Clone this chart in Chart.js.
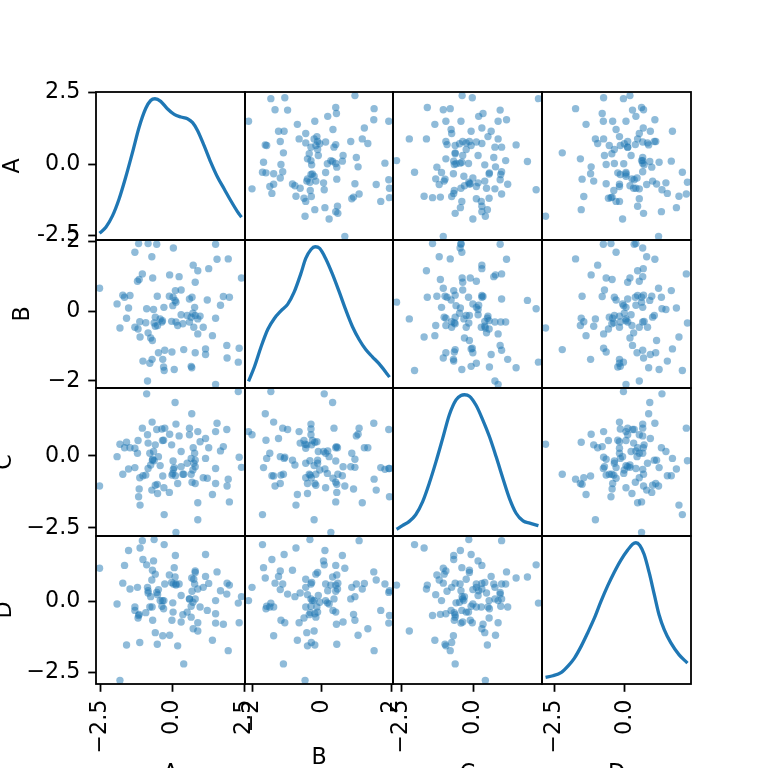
<!DOCTYPE html>
<html>
<head>
<meta charset="utf-8">
<script src="https://cdn.jsdelivr.net/npm/chart.js@4/dist/chart.umd.min.js"></script>
<style>
html, body { margin:0; padding:0; background:#fff; width:768px; height:768px; overflow:hidden; position:relative; }
canvas { position:absolute; left:-32px; top:0; }
</style>
</head>
<body>
<script>
// ---------------- DATA ----------------
const columns = ['A', 'B', 'C', 'D'];

const valuesA = [2.29,2.32,1.90,1.89,2.40,1.98,1.77,1.94,1.50,1.67,1.50,1.55,1.50,1.39,1.15,1.15,1.21,1.26,1.07,0.67,
  0.65,0.79,0.88,0.74,0.88,0.96,0.65,0.71,0.77,0.68,0.59,0.79,0.88,0.72,0.39,0.51,0.30,0.18,0.12,0.30,
  0.10,0.23,0.06,-0.02,-0.03,0.01,0.09,0.02,-0.11,-0.10,0.03,-0.29,-0.31,-0.34,-0.27,-0.49,-0.30,-0.37,-0.43,-0.52,
  -0.60,-0.64,-0.60,-0.66,-0.53,-0.71,-0.79,-1.03,-0.87,-0.70,-0.76,-0.85,-0.93,-0.90,-0.69,-0.72,-0.55,-0.85,-1.13,-1.20,
  -1.14,-1.31,-1.22,-1.16,-1.05,-1.31,-1.18,-1.60,-1.53,-1.48,-1.67,-1.73,-1.83,-1.93,-2.54,0.59,0.79,0.12,-0.35,0.36];

const valuesB = [-1.46,-1.06,-1.34,-0.98,0.95,0.40,0.42,1.50,-2.10,0.17,-0.20,1.49,1.92,-0.70,-1.24,-1.08,0.32,1.22,-0.46,-1.62,
  -1.58,-1.19,-0.65,-0.46,-0.22,-0.14,-0.17,-0.06,0.11,0.40,0.35,0.83,1.16,1.32,-1.10,-0.12,-0.10,-0.41,-0.31,0.61,
  0.59,0.99,-1.67,-1.17,-0.29,0.16,0.31,0.40,0.43,1.04,1.81,-1.70,-1.60,-1.38,-1.12,-1.19,0.11,-0.31,-0.22,-0.41,
  -0.43,-0.34,-0.17,0.05,0.43,-1.38,-1.49,-1.43,-2.00,-0.84,-0.77,-0.62,-0.33,0.07,0.95,1.56,1.92,1.94,-0.74,-0.51,
  -0.30,-0.46,0.86,0.91,1.07,1.69,1.94,-0.20,0.09,0.45,0.40,0.46,-0.48,0.21,0.66,-0.31,-0.12,0.26,-0.27,-0.36];

const valuesC = [2.23,-0.05,-1.05,0.91,-0.40,-1.60,0.32,-0.81,0.84,0.17,-0.96,1.13,-0.44,-1.34,0.60,-0.09,-0.78,0.28,-0.76,1.46,
  -0.09,-0.96,0.84,-0.26,-2.22,0.49,-0.64,-0.49,0.09,-0.92,0.96,-0.38,-1.63,0.28,-0.64,-0.26,0.15,-0.96,1.10,-0.38,
  -0.69,0.69,-0.41,-0.67,0.38,-0.61,1.85,-0.18,-1.27,0.75,-0.47,-2.04,0.54,-0.70,0.96,-0.03,-1.11,0.93,-0.34,-1.31,
  0.38,-0.17,-1.02,0.15,-0.99,1.17,0.09,-0.69,0.73,-0.15,-0.32,0.44,-0.67,2.15,-0.12,-1.19,0.91,-0.44,-1.71,0.53,
  -0.76,0.26,0.09,-1.15,0.96,-0.41,-1.42,0.47,-0.46,0.28,0.28,-0.64,0.40,-0.03,-1.05,0.73,-0.15,-2.66,0.53,-0.64];

const valuesD = [-0.05,-0.75,0.66,0.27,0.18,0.59,-0.80,-1.74,0.04,0.39,-0.43,1.06,-0.76,-1.37,0.90,1.68,-0.31,0.65,0.51,0.84,
  -0.16,1.09,-0.75,0.80,-1.04,-0.19,-0.55,-0.02,0.63,0.37,0.10,0.10,0.45,-0.96,-2.21,-0.37,0.22,-1.57,0.63,-0.72,
  1.64,0.63,1.21,-0.66,0.68,-0.04,0.88,-0.37,0.95,-1.19,0.63,2.03,-0.25,-1.21,0.63,0.43,0.04,-0.16,0.04,0.25,
  -1.10,2.21,0.98,1.45,-1.51,-0.19,-0.19,1.50,0.51,1.12,0.18,0.31,-0.39,1.31,-0.66,0.77,0.33,0.39,1.91,-0.58,
  -1.45,-0.19,0.51,-0.45,2.17,-0.31,-0.49,-1.54,1.82,0.45,1.29,0.66,-2.80,-0.08,1.19,0.10,1.04,0.59,0.04,-0.46];

// density curves on the diagonal
const kdeXA = [-2.54,-2.32,-2.09,-1.86,-1.63,-1.39,-1.16,-0.93,-0.76,-0.61,-0.41,-0.18,0.06,0.29,0.52,0.70,0.87,1.10,1.33,1.57,1.80,2.03,2.26,2.40];
const kdeYA = [0.020,0.034,0.060,0.099,0.149,0.207,0.265,0.308,0.326,0.330,0.324,0.307,0.294,0.288,0.284,0.275,0.257,0.222,0.184,0.149,0.122,0.095,0.070,0.057];
const kdeXB = [-2.10,-1.93,-1.74,-1.55,-1.36,-1.17,-0.98,-0.79,-0.60,-0.46,-0.31,-0.19,-0.06,0.11,0.30,0.50,0.69,0.88,1.07,1.26,1.45,1.64,1.83,1.94];
const kdeYB = [0.030,0.072,0.130,0.180,0.212,0.234,0.253,0.289,0.342,0.386,0.412,0.420,0.415,0.386,0.342,0.289,0.236,0.188,0.151,0.122,0.101,0.081,0.057,0.042];
const kdeXC = [-2.66,-2.46,-2.23,-2.00,-1.76,-1.53,-1.30,-1.07,-0.84,-0.61,-0.44,-0.32,-0.15,0.08,0.31,0.54,0.77,1.00,1.23,1.46,1.70,1.93,2.23];
const kdeYC = [0.010,0.020,0.031,0.050,0.086,0.137,0.196,0.260,0.325,0.366,0.378,0.380,0.376,0.351,0.311,0.265,0.210,0.151,0.095,0.054,0.033,0.027,0.020];
const kdeXD = [-2.80,-2.54,-2.24,-2.01,-1.78,-1.54,-1.31,-1.07,-0.84,-0.60,-0.37,-0.14,0.10,0.27,0.39,0.53,0.68,0.86,1.04,1.21,1.39,1.62,1.91,2.21];
const kdeYD = [0.010,0.014,0.023,0.039,0.060,0.091,0.126,0.165,0.208,0.249,0.284,0.315,0.341,0.356,0.360,0.353,0.330,0.282,0.225,0.172,0.134,0.100,0.069,0.047];

// tick values and labels
const tickValsWide = [-2.5, 0, 2.5];
const tickLabelsWide = ['\u22122.5', '0.0', '2.5'];
const tickLabelsDiagA = ['-2.5', '0.0', '2.5'];
const tickValsB = [-2, 0, 2];
const tickLabelsB = ['\u22122', '0', '2'];

// ---------------- LAYOUT / STYLE ----------------
const X_EDGES = [96, 245, 393, 542, 691];
const Y_EDGES = [92, 240, 388, 536, 684];
const OX = 32, CW = 800, CH = 800;
const FONT = "'DejaVu Sans', sans-serif";
const FS = 22.2;
const BLUE = '#1f77b4';
const LEFT_TITLE_PAD = [32, 41.5, 23.5, 23.5];
const BOTTOM_TITLE_PAD = [12, 28, 12, 12];

const values = [valuesA, valuesB, valuesC, valuesD];
const kdeX = [kdeXA, kdeXB, kdeXC, kdeXD];
const kdeY = [kdeYA, kdeYB, kdeYC, kdeYD];
const tickVals = [tickValsWide, tickValsB, tickValsWide, tickValsWide];
const tickLabels = [tickLabelsWide, tickLabelsB, tickLabelsWide, tickLabelsWide];

function bounds(v) {
  const lo = Math.min(...v), hi = Math.max(...v), pad = (hi - lo) * 0.05 / 2;
  return [lo - pad, hi + pad];
}
const bnds = values.map(bounds);

const framePlugin = {
  id: 'frame',
  afterDatasetsDraw(chart) {
    const { ctx, chartArea: a } = chart;
    ctx.save();
    ctx.strokeStyle = '#000';
    ctx.lineWidth = 1.8;
    ctx.strokeRect(a.left, a.top, a.right - a.left, a.bottom - a.top);
    ctx.restore();
  }
};

function visibleAxis(k, isX, labels, titlePad) {
  const vals = tickVals[k];
  return {
    type: 'linear', min: bnds[k][0], max: bnds[k][1], display: true,
    position: isX ? 'bottom' : 'left',
    afterBuildTicks: s => { s.ticks = vals.filter(v => v >= s.min - 1e-9 && v <= s.max + 1e-9).map(v => ({ value: v })); },
    afterFit: s => { if (isX) s.height = CH - Y_EDGES[4]; else s.width = X_EDGES[0] + OX; },
    ticks: {
      autoSkip: false, padding: 7.8, color: '#000',
      minRotation: isX ? 90 : 0, maxRotation: isX ? 90 : 0,
      font: { family: FONT, size: FS },
      callback: v => labels[vals.indexOf(v)]
    },
    grid: { display: true, drawOnChartArea: false, drawTicks: true, tickLength: 7.8, tickWidth: 1.8, tickColor: '#000', color: '#000' },
    border: { display: false },
    title: {
      display: true, text: columns[k], color: '#000',
      font: { family: FONT, size: FS },
      padding: isX ? { top: 0, bottom: titlePad } : { top: titlePad, bottom: 0 }
    }
  };
}
function hiddenAxis(k) {
  return { type: 'linear', min: bnds[k][0], max: bnds[k][1], display: false };
}

for (let i = 0; i < 4; i++) {
  for (let j = 0; j < 4; j++) {
    const cv = document.createElement('canvas');
    cv.width = CW; cv.height = CH;
    cv.style.width = CW + 'px'; cv.style.height = CH + 'px';
    document.body.appendChild(cv);

    const scales = {};
    scales.x = (i === 3) ? visibleAxis(j, true, tickLabels[j], BOTTOM_TITLE_PAD[j]) : hiddenAxis(j);
    if (j === 0) {
      scales.y = visibleAxis(i, false, (i === 0 && j === 0) ? tickLabelsDiagA : tickLabels[i], LEFT_TITLE_PAD[i]);
    } else {
      scales.y = hiddenAxis(i);
    }

    const datasets = [];
    if (i === j) {
      const ky = kdeY[i];
      const lo = Math.min(...ky), hi = Math.max(...ky), m = (hi - lo) * 0.05;
      scales.yk = { type: 'linear', min: lo - m, max: hi + m, display: false, position: 'right' };
      datasets.push({
        data: kdeX[i].map((x, k) => ({ x: x, y: ky[k] })),
        showLine: true, borderColor: BLUE, borderWidth: 3.3, pointRadius: 0,
        cubicInterpolationMode: 'monotone', fill: false, yAxisID: 'yk', xAxisID: 'x'
      });
    } else {
      datasets.push({
        data: values[j].map((x, k) => ({ x: x, y: values[i][k] })),
        backgroundColor: 'rgba(31,119,180,0.5)', borderWidth: 0,
        pointRadius: 3.7, pointHoverRadius: 3.7, xAxisID: 'x', yAxisID: 'y'
      });
    }

    new Chart(cv, {
      type: 'scatter',
      data: { datasets },
      options: {
        responsive: false, animation: false, events: [],
        devicePixelRatio: 1,
        layout: {
          autoPadding: false,
          padding: {
            left: j === 0 ? 0 : X_EDGES[j] + OX,
            right: CW - (X_EDGES[j + 1] + OX),
            top: Y_EDGES[i],
            bottom: i === 3 ? 0 : CH - Y_EDGES[i + 1]
          }
        },
        plugins: { legend: { display: false }, tooltip: { enabled: false } },
        scales
      },
      plugins: [framePlugin]
    });
  }
}
</script>
</body>
</html>
